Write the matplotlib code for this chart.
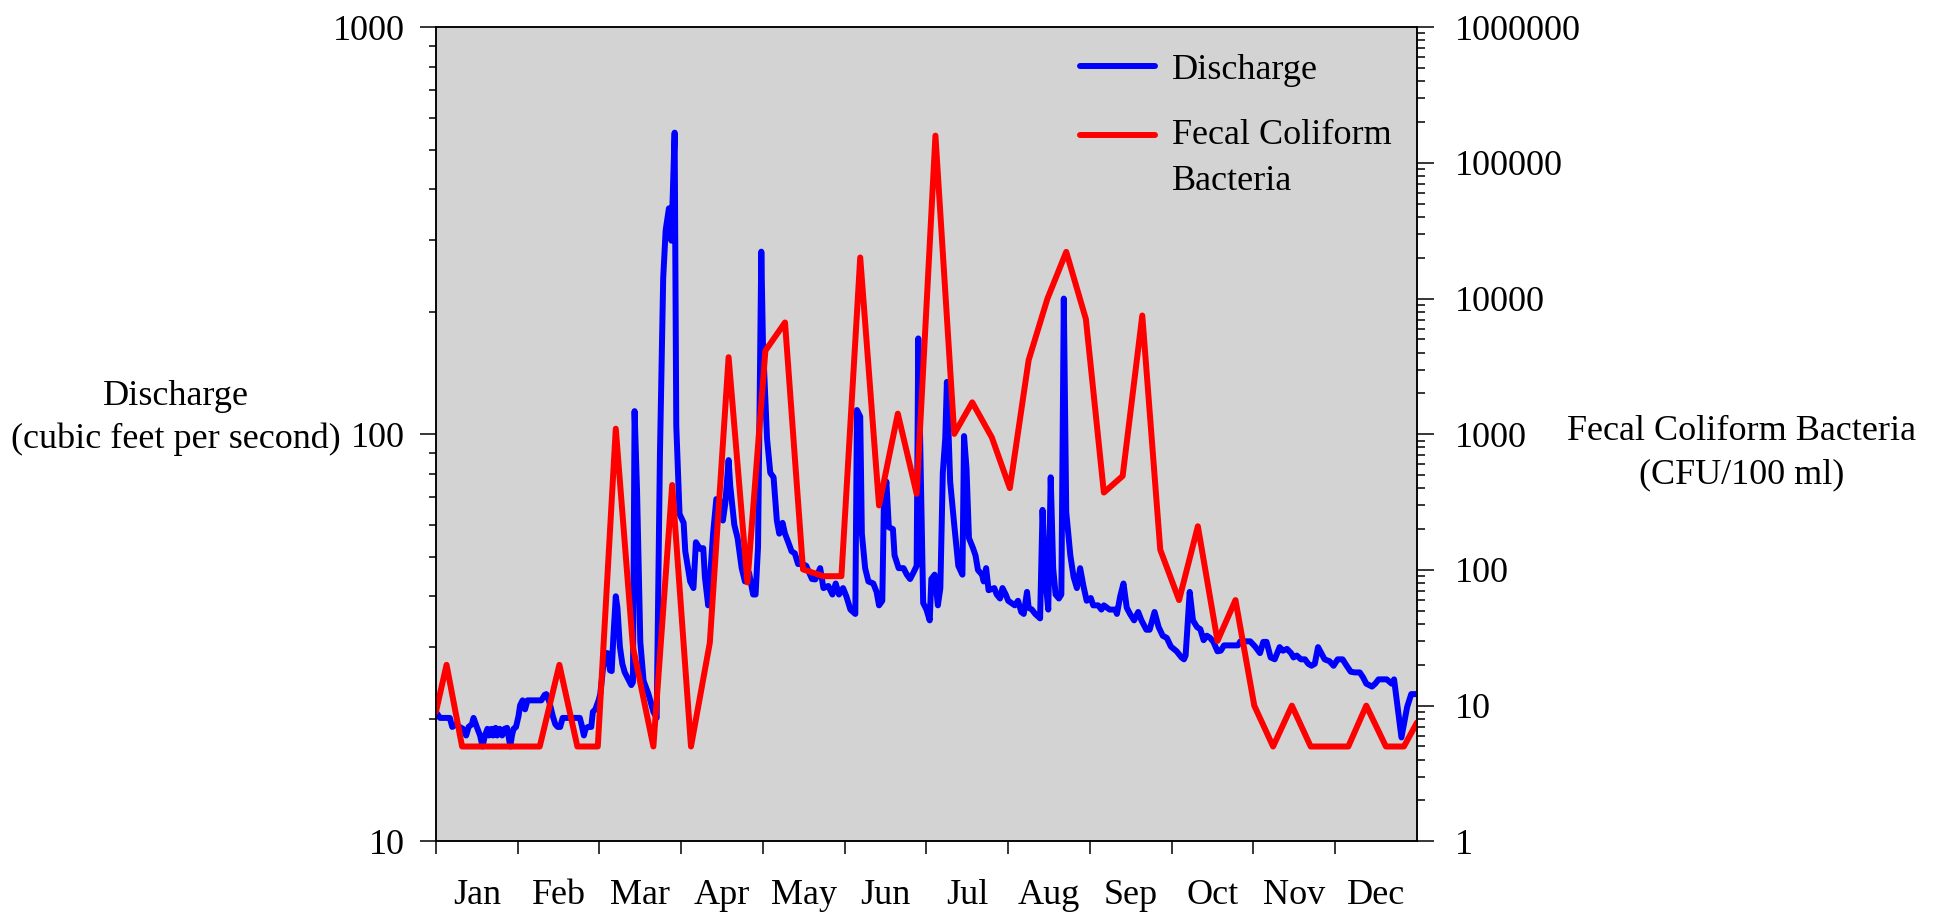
"""Daily discharge and fecal coliform bacteria, plotted on twin log axes."""

import matplotlib
matplotlib.use('Agg')
import matplotlib.pyplot as plt
from matplotlib.ticker import LogLocator, NullFormatter, FixedLocator
from matplotlib.legend_handler import HandlerLine2D

plt.rcParams['font.family'] = ['Liberation Serif', 'DejaVu Serif']

MONTHS = ['Jan', 'Feb', 'Mar', 'Apr', 'May', 'Jun',
          'Jul', 'Aug', 'Sep', 'Oct', 'Nov', 'Dec']

# time in months since Jan 1 (12 equal month slots), discharge in cfs
Q_MONTH = [
    0.00, 0.05, 0.17, 0.20, 0.25, 0.29, 0.33, 0.37, 0.40, 0.44, 0.46, 0.50,
    0.54, 0.57, 0.60, 0.63, 0.65, 0.68, 0.70, 0.73, 0.75, 0.78, 0.81, 0.84,
    0.87, 0.91, 0.93, 0.95, 0.98, 1.01, 1.03, 1.06, 1.09, 1.12, 1.15, 1.29,
    1.33, 1.35, 1.37, 1.39, 1.43, 1.46, 1.49, 1.52, 1.55, 1.60, 1.76, 1.78,
    1.81, 1.83, 1.86, 1.90, 1.92, 1.95, 1.99, 2.01, 2.05, 2.08, 2.10, 2.13,
    2.15, 2.17, 2.20, 2.22, 2.25, 2.28, 2.31, 2.35, 2.39, 2.41, 2.43, 2.46,
    2.50, 2.54, 2.60, 2.66, 2.70, 2.74, 2.78, 2.81, 2.85, 2.88, 2.92, 2.94,
    2.98, 3.03, 3.05, 3.11, 3.15, 3.18, 3.23, 3.27, 3.29, 3.33, 3.39, 3.43,
    3.47, 3.51, 3.54, 3.58, 3.60, 3.65, 3.69, 3.74, 3.78, 3.83, 3.88, 3.91,
    3.94, 3.98, 4.00, 4.05, 4.09, 4.13, 4.17, 4.20, 4.24, 4.27, 4.31, 4.35,
    4.39, 4.43, 4.49, 4.53, 4.60, 4.64, 4.70, 4.74, 4.80, 4.85, 4.89, 4.93,
    4.98, 5.02, 5.07, 5.13, 5.15, 5.19, 5.21, 5.25, 5.29, 5.35, 5.39, 5.42,
    5.46, 5.48, 5.51, 5.54, 5.59, 5.61, 5.66, 5.72, 5.76, 5.80, 5.84, 5.88,
    5.90, 5.93, 5.96, 6.00, 6.04, 6.06, 6.10, 6.14, 6.17, 6.20, 6.23, 6.25,
    6.29, 6.34, 6.39, 6.44, 6.46, 6.49, 6.52, 6.57, 6.60, 6.63, 6.68, 6.70,
    6.73, 6.76, 6.83, 6.86, 6.90, 6.93, 6.97, 7.00, 7.04, 7.08, 7.12, 7.16,
    7.19, 7.23, 7.25, 7.29, 7.33, 7.39, 7.42, 7.45, 7.49, 7.52, 7.55, 7.58,
    7.62, 7.65, 7.68, 7.71, 7.76, 7.80, 7.84, 7.88, 7.92, 7.96, 8.01, 8.04,
    8.10, 8.14, 8.17, 8.24, 8.31, 8.33, 8.37, 8.41, 8.45, 8.49, 8.54, 8.59,
    8.63, 8.69, 8.73, 8.79, 8.84, 8.89, 8.94, 8.99, 9.06, 9.12, 9.15, 9.17,
    9.22, 9.26, 9.31, 9.35, 9.39, 9.43, 9.47, 9.51, 9.56, 9.60, 9.64, 9.81,
    9.84, 9.96, 10.02, 10.08, 10.12, 10.16, 10.21, 10.26, 10.32, 10.36, 10.41,
    10.46, 10.49, 10.53, 10.58, 10.63, 10.67, 10.71, 10.75, 10.79, 10.83,
    10.87, 10.93, 10.98, 11.03, 11.09, 11.14, 11.19, 11.24, 11.30, 11.34,
    11.38, 11.45, 11.49, 11.53, 11.63, 11.69, 11.72, 11.75, 11.81, 11.84,
    11.88, 11.93, 12.00,
]
Q_VALUE = [
    20.8, 20.1, 20.1, 19.1, 19.4, 19.1, 18.9, 18.2, 19.1, 19.4, 20.1, 19.1,
    18.2, 17.1, 18.2, 18.9, 18.2, 18.9, 18.2, 19.0, 18.2, 18.9, 18.2, 18.9,
    19.0, 17.1, 18.2, 18.9, 19.1, 20.3, 21.6, 22.2, 21.1, 22.2, 22.2, 22.2,
    22.9, 23.0, 22.5, 21.9, 20.3, 19.4, 19.1, 19.1, 20.1, 20.1, 20.1, 19.4,
    18.2, 18.9, 19.1, 19.1, 20.8, 21.1, 22.2, 23.0, 27.3, 29.0, 29.0, 26.3,
    26.2, 31.6, 40.0, 37.5, 30.1, 27.3, 26.0, 25.1, 24.2, 24.6, 114, 72.8,
    30.9, 24.8, 23.0, 20.8, 20.1, 88.8, 242, 317, 359, 299, 551, 105,
    63.7, 60.6, 51.6, 43.5, 41.9, 54.3, 52.3, 52.5, 44.6, 38.0, 57.0, 69.3,
    69.0, 61.4, 67.7, 86.4, 74.7, 59.9, 55.6, 46.9, 43.5, 45.7, 40.4, 40.4,
    52.9, 281, 168, 97.7, 80.4, 78.4, 61.4, 57.0, 60.6, 57.0, 54.3, 51.6,
    51.0, 48.0, 48.0, 47.5, 44.1, 44.0, 46.9, 41.9, 42.4, 40.4, 43.0, 40.4,
    41.9, 40.0, 37.1, 36.2, 114.7, 110.5, 57.0, 46.9, 43.5, 43.0, 41.0, 38.0,
    39.0, 69.3, 76.5, 59.1, 58.5, 50.4, 46.9, 46.9, 45.2, 44.1, 45.7, 47.5,
    172, 82.4, 38.5, 37.1, 34.9, 44.1, 45.2, 38.0, 41.9, 80.4, 97.7, 134.5,
    76.5, 59.9, 47.5, 45.2, 99.0, 82.4, 55.6, 52.5, 50.4, 46.4, 45.2, 43.5,
    46.9, 41.4, 41.9, 40.4, 39.5, 41.9, 40.4, 39.0, 38.5, 38.0, 39.0, 36.6,
    36.2, 41.0, 37.5, 37.1, 36.2, 35.3, 65.2, 45.0, 37.1, 78.4, 46.9, 40.4,
    39.5, 40.4, 215.5, 64.4, 50.4, 44.6, 41.9, 46.9, 42.4, 39.0, 39.6, 38.0,
    38.0, 37.1, 38.0, 37.1, 37.1, 36.2, 40.0, 43.0, 37.5, 36.2, 34.9, 36.6,
    34.9, 33.1, 33.1, 36.6, 33.6, 32.0, 31.6, 30.1, 29.3, 28.3, 28.0, 28.6,
    41.0, 34.9, 33.6, 33.2, 31.2, 32.0, 31.6, 30.9, 29.3, 29.4, 30.3, 30.3,
    31.0, 31.0, 30.1, 29.0, 30.9, 30.9, 28.3, 28.0, 30.0, 29.4, 29.7,
    29.0, 28.3, 28.6, 28.0, 28.0, 27.3, 27.0, 27.3, 30.0, 29.0,
    28.0, 27.7, 27.0, 28.0, 28.0, 27.0, 26.1, 26.0, 26.0, 25.3,
    24.4, 24.0, 24.4, 25.0, 25.0, 24.4, 25.0, 22.4, 18.0, 19.4,
    21.4, 23.0, 23.0,
]

# weekly grab samples, CFU/100 ml
FC_MONTH = [
    0.00, 0.13, 0.32, 1.27, 1.51, 1.73, 1.98, 2.20, 2.41, 2.66, 2.89, 3.12,
    3.35, 3.58, 3.81, 4.03, 4.27, 4.49, 4.74, 4.96, 5.19, 5.42, 5.65, 5.88,
    6.11, 6.34, 6.56, 6.80, 7.02, 7.25, 7.48, 7.71, 7.95, 8.17, 8.40, 8.64,
    8.86, 9.09, 9.32, 9.56, 9.78, 10.01, 10.24, 10.47, 10.70, 11.16, 11.38,
    11.62, 11.84, 12.00,
]
FC_VALUE = [
    9, 20, 5, 5, 20, 5, 5, 1100, 27, 5, 423, 5,
    29, 3700, 81, 4130, 6670, 101, 90, 90, 20100, 299, 1420, 364,
    159000, 1007, 1720, 948, 401, 3520, 10000, 22100, 7070, 372, 493, 7510,
    141, 60, 210, 30, 60, 10, 5, 10, 5, 5, 10,
    5, 5, 7.5,
]

FS = 26
LSP = 1.4


class FirstLineHandler(HandlerLine2D):
    """Line handle lined up with the first row of a two-row label."""

    def __init__(self, shift, **kw):
        super().__init__(**kw)
        self.shift = shift

    def create_artists(self, legend, orig_handle, xdescent, ydescent,
                       width, height, fontsize, trans):
        return super().create_artists(legend, orig_handle, xdescent,
                                       ydescent - 2 * self.shift, width,
                                       height, fontsize, trans)


fig = plt.figure(figsize=(19.4, 9.21), dpi=100)
ax = fig.add_axes([0.2247, 0.0865, 0.5057, 0.8839])
ax2 = ax.twinx()

ax.set_facecolor('#d3d3d3')
l1, = ax.plot(Q_MONTH, Q_VALUE, color='#0000ff', lw=4.3,
              solid_joinstyle='round', solid_capstyle='round', label='Discharge')
l2, = ax2.plot(FC_MONTH, FC_VALUE, color='#ff0000', lw=4.3,
               solid_joinstyle='round', solid_capstyle='round',
               label='Fecal Coliform\nBacteria')

ax.set_yscale('log')
ax.set_ylim(10, 1000)
ax2.set_yscale('log')
ax2.set_ylim(1, 1e6)
ax.set_xlim(0, 12)

# left axis
ax.yaxis.set_major_locator(FixedLocator([10, 100, 1000]))
ax.yaxis.set_minor_locator(LogLocator(base=10, subs=range(2, 10)))
ax.yaxis.set_minor_formatter(NullFormatter())
ax.set_yticklabels(['10', '100', '1000'])
ax.tick_params(axis='y', which='major', direction='out', length=11.5,
               width=1.1, pad=10.5, labelsize=FS)
ax.tick_params(axis='y', which='minor', direction='out', length=5, width=1.1)

# right axis
dec = [1, 10, 100, 1000, 10000, 100000, 1000000]
ax2.yaxis.set_major_locator(FixedLocator(dec))
ax2.yaxis.set_minor_locator(LogLocator(base=10, subs=range(2, 10)))
ax2.yaxis.set_minor_formatter(NullFormatter())
ax2.set_yticklabels([str(d) for d in dec])
ax2.tick_params(axis='y', which='major', direction='out', length=12,
                width=1.1, pad=15, labelsize=FS)
ax2.tick_params(axis='y', which='minor', direction='out', length=5.8, width=1.1)

# months: boundary ticks, names centered in each slot
ax.set_xticks(range(12))
ax.set_xticklabels([])
ax.set_xticks([i + 0.5 for i in range(12)], minor=True)
ax.set_xticklabels(MONTHS, minor=True)
ax.tick_params(axis='x', which='major', direction='out', length=9.4, width=1.1)
ax.tick_params(axis='x', which='minor', length=0, pad=27, labelsize=FS)

for a in (ax, ax2):
    for s in a.spines.values():
        s.set_linewidth(1.1)

ax.set_ylabel('Discharge\n(cubic feet per second)', rotation=0,
              fontsize=FS, ha='center', va='center', linespacing=LSP)
ax.yaxis.set_label_coords(-0.265, 0.52)
ax2.set_ylabel('Fecal Coliform Bacteria\n(CFU/100 ml)', rotation=0,
               fontsize=FS, ha='center', va='center', linespacing=LSP)
ax2.yaxis.set_label_coords(1.331, 0.477)

leg = ax2.legend([l1, l2], [l1.get_label(), l2.get_label()], loc='upper left',
                 bbox_to_anchor=(0.6565, 0.968), frameon=False, fontsize=FS,
                 handlelength=2.07, handletextpad=0.48, labelspacing=0.91,
                 borderpad=0, borderaxespad=0,
                 handler_map={l2: FirstLineHandler(shift=17.5)})
for t in leg.get_texts():
    t.set_linespacing(1.52)

fig.savefig('out.png', dpi=100)
